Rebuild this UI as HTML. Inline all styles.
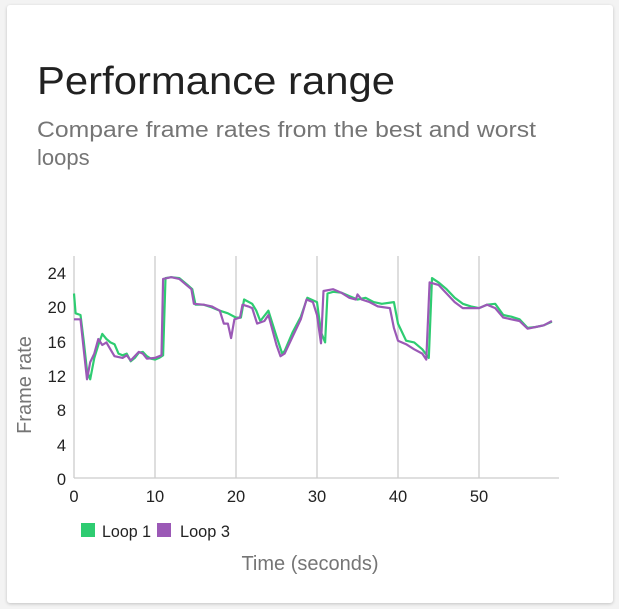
<!DOCTYPE html>
<html><head><style>
html,body{margin:0;padding:0;background:#f3f3f3;}
body{width:619px;height:609px;position:relative;overflow:hidden;font-family:"Liberation Sans",sans-serif;}
.card{position:absolute;left:7px;top:5px;width:606px;height:598px;background:#fff;border-radius:3px;box-shadow:0 1px 3px rgba(0,0,0,0.2);}
svg{position:absolute;left:0;top:0;}
</style></head><body>
<div class="card"></div>
<svg width="619" height="609" xmlns="http://www.w3.org/2000/svg" font-family="Liberation Sans, sans-serif">
<text x="37" y="94" font-size="39" fill="#212121" textLength="358" lengthAdjust="spacingAndGlyphs">Performance range</text>
<text x="37" y="137" font-size="22" fill="#757575" textLength="499" lengthAdjust="spacingAndGlyphs">Compare frame rates from the best and worst</text>
<text x="37" y="165" font-size="22" fill="#757575">loops</text>
<g stroke="#cccccc" stroke-width="1.3">
<line x1="155" y1="256" x2="155" y2="478"/><line x1="236" y1="256" x2="236" y2="478"/>
<line x1="317" y1="256" x2="317" y2="478"/><line x1="398" y1="256" x2="398" y2="478"/>
<line x1="479" y1="256" x2="479" y2="478"/><line x1="74" y1="256" x2="74" y2="478"/>
<line x1="74" y1="478" x2="559" y2="478"/>
</g>
<g font-size="16.5" fill="#222" text-anchor="end">
<text x="66" y="279">24</text><text x="66" y="313">20</text><text x="66" y="348">16</text>
<text x="66" y="382">12</text><text x="66" y="416">8</text><text x="66" y="451">4</text><text x="66" y="485">0</text>
</g>
<g font-size="16.5" fill="#222" text-anchor="middle">
<text x="74" y="502">0</text><text x="155" y="502">10</text><text x="236" y="502">20</text>
<text x="317" y="502">30</text><text x="398" y="502">40</text><text x="479" y="502">50</text>
</g>
<text transform="translate(31,385) rotate(-90)" font-size="20" fill="#757575" text-anchor="middle">Frame rate</text>
<polyline id="g" fill="none" stroke="#2ecc71" stroke-width="2.2" stroke-linejoin="round"/>
<polyline id="p" fill="none" stroke="#9b59b6" stroke-width="2.2" stroke-linejoin="round"/>
<rect x="81" y="523" width="14" height="14" fill="#2ecc71"/>
<text x="102" y="537" font-size="17" fill="#222" textLength="49" lengthAdjust="spacingAndGlyphs">Loop 1</text>
<rect x="157" y="523" width="14" height="14" fill="#9b59b6"/>
<text x="180" y="537" font-size="17" fill="#222" textLength="50" lengthAdjust="spacingAndGlyphs">Loop 3</text>
<text x="310" y="570" font-size="20" fill="#757575" text-anchor="middle">Time (seconds)</text>
</svg>
<script>
var G=[0,21.5,0.2,19.2,0.8,19,1.2,16,1.6,12.5,2,11.5,2.5,14,3,15.5,3.5,16.8,4,16.2,4.5,15.8,5,15.6,5.5,14.5,6,14.3,6.5,14.5,7,13.6,7.5,14,8,14.6,8.5,14.7,9,14.2,9.5,13.9,10,13.8,10.5,14,11,14.3,11.3,23.3,12,23.4,13,23.3,14,22.5,14.6,22,15,20.2,16,20.2,17,19.9,18,19.5,19,19.2,20,18.7,20.6,18.7,21,20.8,22,20.3,22.5,19.5,23,18.3,24,19.5,25,16.5,25.7,14.5,26,14.8,27,17,28,18.8,28.8,21,30,20.5,30.5,17,31,15.8,31.3,21.5,32,21.7,33,21.6,34,21.2,35,20.8,36,21,37,20.5,38,20.3,39.5,20.5,40,18,41,16,42,15.8,43,15,43.8,14,44.2,23.3,45,22.8,46,22,47,21,48,20.3,49,20,50,19.8,51,20.2,52,20.3,53,19,54,18.8,55,18.5,56,17.5,57,17.6,58,17.8,59,18.2];
var P=[0,18.5,0.8,18.5,1.2,15,1.6,11.5,2,13.5,2.5,14.5,3,16.2,3.5,15.5,4,15.8,4.5,15,5,14.2,6,14,6.5,14.3,7,13.7,8,14.7,8.5,14.5,9,13.9,10,14,10.8,14.3,11,23.2,12,23.4,13,23.2,14,22.4,14.5,22,14.8,20.3,16,20.2,17,20,18,19.5,18.5,18,19,18,19.4,16.3,19.8,18.5,20.5,18.7,20.8,20.2,21.5,20,22,19.8,22.6,18,23.5,18.3,24,19,25,15.5,25.5,14.2,26,14.5,27,16.5,28,18.5,28.7,20.8,29.5,20.5,30,19,30.5,15.7,30.8,21.8,32,22,33,21.6,34,21,34.8,20.8,35,21.4,35.5,20.8,36.5,20.5,37.5,20,39,19.8,39.5,17.5,40,16,41,15.6,42,15,43,14.5,43.5,13.8,43.9,22.8,45,22.5,46,21.5,47,20.5,48,19.8,50,19.8,51,20.2,52,19.8,53,18.7,55,18.3,56,17.4,57,17.6,58,17.8,59,18.3];
function pts(a){var s=[];for(var i=0;i<a.length;i+=2)s.push((74+8.1*a[i]).toFixed(1)+","+(478-8.58*a[i+1]).toFixed(1));return s.join(" ");}
document.getElementById("g").setAttribute("points",pts(G));
document.getElementById("p").setAttribute("points",pts(P));
</script>
</body></html>
